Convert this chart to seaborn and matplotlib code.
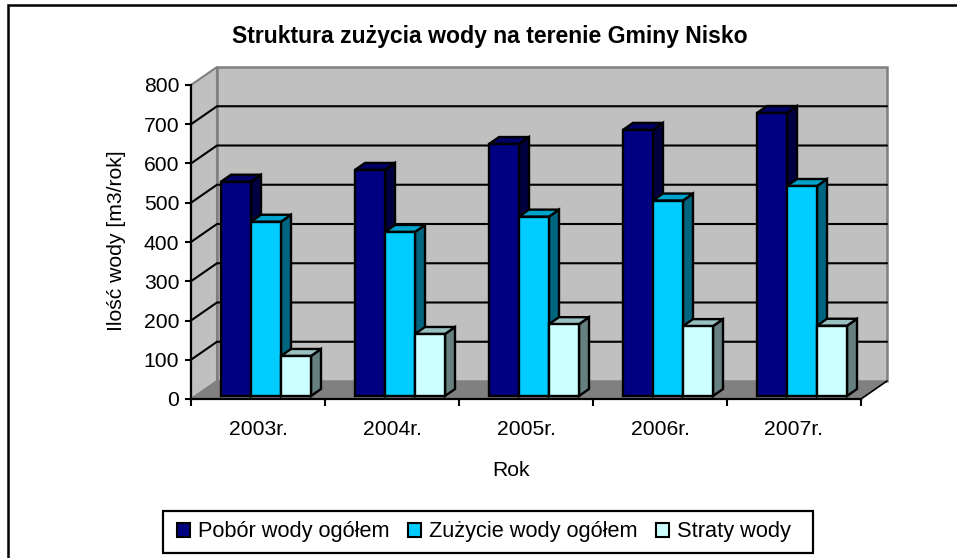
import pandas as pd
import matplotlib.pyplot as plt
import seaborn as sns
from matplotlib.lines import Line2D
from matplotlib.patches import Polygon, Rectangle

# Dane
lata = ['2003r.', '2004r.', '2005r.', '2006r.', '2007r.']
pobor = [546, 576, 642, 678, 721]
zuzycie = [444, 418, 457, 498, 535]
straty = [102, 158, 183, 178, 179]
serie = ['Pobór wody ogółem', 'Zużycie wody ogółem', 'Straty wody']
poziomy = [0, 100, 200, 300, 400, 500, 600, 700, 800]

kolory = ['#000080', '#00CCFF', '#CCFFFF']
kolory_bok = ['#000040', '#006680', '#668080']
kolory_gora = ['#000066', '#00A3CC', '#99C0C0']

df = pd.DataFrame({
    'rok': lata * 3,
    'seria': [serie[0]] * 5 + [serie[1]] * 5 + [serie[2]] * 5,
    'woda': pobor + zuzycie + straty,
})

sns.set_theme(style='white')
plt.rcParams['font.family'] = ['Liberation Sans', 'DejaVu Sans']

W, H = 957, 558
ROZMIAR = 15.2
fig = plt.figure(figsize=(W / 100, H / 100), dpi=100)
ax = fig.add_axes([191 / W, (H - 399) / H, 670 / W, 314 / H])
ax.patch.set_visible(False)

sns.barplot(data=df, x='rok', y='woda', hue='seria', hue_order=serie,
            palette=kolory, width=90 / 134, saturation=1, gap=0, ax=ax,
            legend=False)
ax.set_xlim(-0.5, 4.5)
ax.set_ylim(0, 800)

# przeliczenie pikseli na jednostki osi
px = 1 / 134
py = 800 / 314
x0, x1 = -0.5, 4.5
gx, gy = 26 * px, 18 * py


def wielokat(pts, kolor, z, brzeg='none', lw=0):
    ax.add_patch(Polygon(pts, closed=True, facecolor=kolor, edgecolor=brzeg,
                         linewidth=lw, clip_on=False, zorder=z, joinstyle='miter'))


# sciany i podloga
wielokat([(x0 + gx, gy), (x1 + gx, gy), (x1 + gx, 800 + gy), (x0 + gx, 800 + gy)],
         '#C0C0C0', 0.5, '#808080', 1.8)
wielokat([(x0, 0), (x0 + gx, gy), (x0 + gx, 800 + gy), (x0, 800)],
         '#C0C0C0', 0.5, '#808080', 1.5)
wielokat([(x0, 0), (x1, 0), (x1 + gx, gy), (x0 + gx, gy)], '#808080', 0.6)

# siatka
for p in poziomy[1:-1]:
    ax.plot([x0, x0 + gx, x1 + gx], [p, p + gy, p + gy], color='black', lw=1.5,
            clip_on=False, zorder=0.8, solid_joinstyle='miter')
ax.plot([x1, x1 + gx], [0, gy], color='black', lw=1.2, clip_on=False, zorder=0.9)

# slupki 3D: przesuniecie przednich scian i dorysowanie boku oraz gory
sx, sy = 8 * px, 3 * py
bx, by = 10 * px, 7 * py
for i, kontener in enumerate(ax.containers):
    for bar in kontener:
        x = bar.get_x() + sx
        w = bar.get_width()
        h = bar.get_height()
        bar.set_xy((x, sy))
        bar.set_edgecolor('black')
        bar.set_linewidth(1.7)
        bar.set_joinstyle('miter')
        bar.set_clip_on(False)
        bar.set_zorder(3 + i + 0.5)
        wielokat([(x + w, sy), (x + w + bx, sy + by), (x + w + bx, sy + h + by), (x + w, sy + h)],
                 kolory_bok[i], 3 + i, 'black', 1.7)
        wielokat([(x, sy + h), (x + w, sy + h), (x + w + bx, sy + h + by), (x + bx, sy + h + by)],
                 kolory_gora[i], 3 + i, 'black', 1.7)

# osie
sns.despine(ax=ax, top=True, right=True)
for s in ['left', 'bottom']:
    ax.spines[s].set_color('black')
    ax.spines[s].set_linewidth(1.6)
    ax.spines[s].set_zorder(2)
ax.set_yticks(poziomy)
ax.set_xticks([x0 + i for i in range(6)], minor=True)
ax.tick_params(axis='y', which='major', length=4, width=1.5, color='black',
               left=True, labelsize=ROZMIAR, labelcolor='black', pad=4.5)
ax.tick_params(axis='x', which='major', length=0, labelsize=ROZMIAR, labelcolor='black', pad=15)
ax.tick_params(axis='x', which='minor', length=5, width=1.5, color='black', bottom=True)
ax.set_xlabel('')
ax.set_ylabel('')

fig.text(116 / W, 1 - 241 / H, 'Ilość wody [m3/rok]', rotation=90, fontsize=ROZMIAR,
         ha='center', va='center', color='black')
fig.text(511 / W, 1 - 470 / H, 'Rok', fontsize=ROZMIAR, ha='center', va='center', color='black')
fig.text(490 / W, 1 - 37 / H, 'Struktura zużycia wody na terenie Gminy Nisko', fontsize=16.6,
         fontweight='bold', ha='center', va='center', color='black')

# ramka wykresu (tylko z lewej i u gory)
fig.add_artist(Line2D([8 / W, 8 / W, 1], [0, 1 - 5 / H, 1 - 5 / H], color='black', lw=1.8,
                      solid_joinstyle='miter'))

# legenda
fig.add_artist(Rectangle((163 / W, 1 - 553 / H), 650 / W, 42 / H, facecolor='white',
                         edgecolor='black', linewidth=1.6, transform=fig.transFigure))
uchwyty = [plt.Rectangle((0, 0), 1, 1, facecolor=k, edgecolor='black', linewidth=1.5) for k in kolory]
leg = fig.legend(uchwyty, serie, ncols=3, loc='center', bbox_to_anchor=(484 / W, 1 - 532 / H),
                 fontsize=15.7, frameon=False, handlelength=0.6, handleheight=0.6,
                 handletextpad=0.36, columnspacing=0.85, labelcolor='black')

fig.savefig('out.png', dpi=100)
